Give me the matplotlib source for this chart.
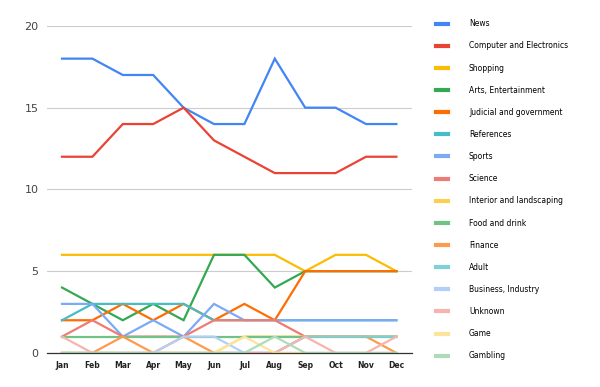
import matplotlib.pyplot as plt

# -------------------------------------------------
# Data
# -------------------------------------------------

months = ["Jan", "Feb", "Mar", "Apr", "May", "Jun",
          "Jul", "Aug", "Sep", "Oct", "Nov", "Dec"]

news = [18, 18, 17, 17, 15, 14, 14, 18, 15, 15, 14, 14]
computer = [12, 12, 14, 14, 15, 13, 12, 11, 11, 11, 12, 12]
shopping = [6, 6, 6, 6, 6, 6, 6, 6, 5, 6, 6, 5]
arts = [4, 3, 2, 3, 2, 6, 6, 4, 5, 5, 5, 5]
judicial = [2, 2, 3, 2, 3, 2, 3, 2, 5, 5, 5, 5]
references = [2, 3, 3, 3, 3, 2, 2, 2, 2, 2, 2, 2]
sports = [3, 3, 1, 2, 1, 3, 2, 2, 2, 2, 2, 2]
science = [1, 2, 1, 1, 1, 2, 2, 2, 1, 1, 1, 1]
interior = [0, 0, 0, 0, 0, 0, 1, 1, 1, 1, 1, 1]
food = [1, 1, 1, 1, 1, 1, 1, 1, 1, 1, 1, 1]
finance = [0, 0, 1, 0, 1, 0, 0, 0, 1, 1, 1, 0]
adult = [0, 0, 0, 0, 0, 0, 0, 0, 1, 1, 1, 1]
business = [0, 0, 0, 0, 1, 1, 0, 0, 0, 0, 0, 0]
unknown = [1, 0, 0, 0, 0, 0, 0, 0, 1, 0, 0, 1]
game = [0, 0, 0, 0, 0, 0, 1, 0, 0, 0, 0, 0]
gambling = [0, 0, 0, 0, 0, 0, 0, 1, 0, 0, 0, 0]

labels = ["News", "Computer and Electronics", "Shopping", "Arts, Entertainment",
          "Judicial and government", "References", "Sports", "Science",
          "Interior and landscaping", "Food and drink", "Finance", "Adult",
          "Business, Industry", "Unknown", "Game", "Gambling"]

series = [news, computer, shopping, arts, judicial, references, sports, science,
          interior, food, finance, adult, business, unknown, game, gambling]

colors = ["#4285F4", "#EA4335", "#FBBC04", "#34A853", "#FF6D01", "#46BDC6",
          "#7BAAF7", "#F07B72", "#FCD04F", "#71C287", "#FF994D", "#7ED1D7",
          "#B3CEFB", "#F7B4AE", "#FDE49B", "#AEDCBA"]

# -------------------------------------------------
# Plot
# -------------------------------------------------

fig = plt.figure(figsize=(6, 3.87), dpi=100)
ax = fig.add_axes([0.078, 0.088, 0.608, 0.845])

x = range(len(months))
for vals, lab, col in zip(series, labels, colors):
    ax.plot(x, vals, color=col, linewidth=1.6, label=lab, solid_joinstyle="miter")

ax.set_xlim(-0.5, 11.5)
ax.set_ylim(0, 20)
ax.set_yticks([0, 5, 10, 15, 20])
ax.set_xticks(list(x))
ax.set_xticklabels(months, fontsize=5.5, fontweight="bold", color="#222222")
ax.tick_params(axis="y", labelsize=8, colors="#444444", length=0, pad=6)
ax.tick_params(axis="x", length=0, pad=6)
ax.grid(axis="y", color="#cccccc", linewidth=0.8)
ax.set_axisbelow(True)
for side in ["top", "right", "left"]:
    ax.spines[side].set_visible(False)
ax.spines["bottom"].set_color("#333333")
ax.spines["bottom"].set_linewidth(0.9)

leg = ax.legend(loc="upper left", bbox_to_anchor=(0.716, 0.968),
                bbox_transform=fig.transFigure, frameon=False,
                fontsize=5.5, handlelength=1.5, handletextpad=2.75,
                labelspacing=1.72)
for h in leg.get_lines():
    h.set_linewidth(3)

fig.savefig("out.png", dpi=100)
